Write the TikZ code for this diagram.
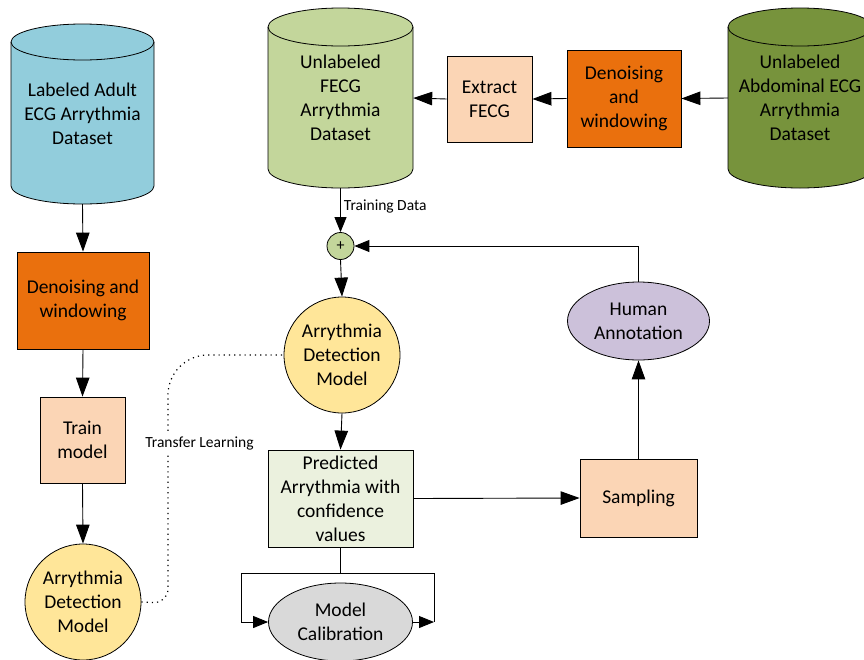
\documentclass[tikz,border=0pt]{standalone}
\usepackage{fontspec}
\setmainfont{Carlito}
\usetikzlibrary{arrows.meta,shapes.geometric}
\definecolor{cblue}{HTML}{92CDDC}
\definecolor{cgreen}{HTML}{C3D69B}
\definecolor{colive}{HTML}{77933C}
\definecolor{corange}{HTML}{EA700D}
\definecolor{cpeach}{HTML}{FBD5B5}
\definecolor{cyel}{HTML}{FFE699}
\definecolor{cpale}{HTML}{EBF1DE}
\definecolor{clav}{HTML}{CCC1DA}
\definecolor{cgray}{HTML}{D9D9D9}
\definecolor{cline}{HTML}{000000}
\tikzset{
  lbl/.style={font=\fontsize{19.5}{24}\selectfont, align=center},
  box/.style={draw=cline, line width=0.8pt, inner sep=0pt, lbl},
  arr/.style={-{Triangle[length=19pt,width=13.5pt]}, line width=0.9pt, draw=cline},
  sarr/.style={-{Triangle[length=15pt,width=12pt]}, line width=0.9pt, draw=cline},
  ln/.style={line width=0.9pt, draw=cline},
  small/.style={font=\fontsize{15.5}{18}\selectfont},
}
\newcommand\mycyl[8]{%
  \path[fill=#7, draw=cline, line width=0.8pt] ({#2-#5},{#3+#6}) -- ({#2-#5},{#4-#6})
    arc[start angle=180,end angle=360,x radius=#5pt,y radius=#6pt] -- ({#2+#5},{#3+#6})
    arc[start angle=0,end angle=180,x radius=#5pt,y radius=#6pt] -- cycle;
  \draw[cline, line width=0.8pt] ({#2-#5},{#3+#6}) arc[start angle=180,end angle=360,x radius=#5pt,y radius=#6pt];
  \node[lbl, inner sep=0pt, minimum width={2*#5pt}, minimum height={(#4-#3)*1pt}] (#1) at (#2,{(#3+#4)/2}) {#8};
}
\begin{document}
\begin{tikzpicture}[x=1pt,y=-1pt]
\useasboundingbox (0,0) rectangle (864,659);
\fill[white] (0,0) rectangle (864,659);

% cylinders
\mycyl{lcyl}{82.5}{24}{204}{71.5}{18}{cblue}{Labeled Adult\\ECG Arrythmia\\Dataset}
\mycyl{mcyl}{340.5}{8}{188}{72.5}{19}{cgreen}{Unlabeled\\FECG\\Arrythmia\\Dataset}
\mycyl{rcyl}{800}{8}{188}{72}{19}{colive}{Unlabeled\\Abdominal ECG\\Arrythmia\\Dataset}

% boxes
\node[box, fill=corange, minimum width=132pt, minimum height=97pt] (den1) at (83,300.5) {Denoising and\\windowing};
\node[box, fill=cpeach, minimum width=85pt, minimum height=86pt] (train) at (82.5,440) {Train\\model};
\node[circle, draw=cline, line width=0.8pt, fill=cyel, minimum size=116pt, inner sep=0pt, lbl] (adm1) at (83,602) {Arrythmia\\Detection\\Model};

\node[box, fill=cpeach, minimum width=85pt, minimum height=86pt] (extract) at (489.5,99) {Extract\\FECG};
\node[box, fill=corange, minimum width=114pt, minimum height=97pt] (den2) at (624,98.5) {Denoising\\and\\windowing};

\node[circle, draw=cline, line width=0.8pt, fill=cgreen, minimum size=27pt, inner sep=0pt, font=\fontsize{16}{18}\selectfont] (plus) at (340.5,246) {+};
\node[circle, draw=cline, line width=0.8pt, fill=cyel, minimum size=116pt, inner sep=0pt, lbl] (adm2) at (342,355) {Arrythmia\\Detection\\Model};
\node[box, fill=cpale, minimum width=145pt, minimum height=97pt] (pred) at (340.5,498.5) {Predicted\\Arrythmia with\\confidence\\values};
\node[ellipse, draw=cline, line width=0.8pt, fill=cgray, minimum width=144pt, minimum height=78pt, inner sep=0pt, lbl] (calib) at (340.5,622) {Model\\Calibration};

\node[box, fill=cpeach, minimum width=117pt, minimum height=78pt] (samp) at (638.5,498) {Sampling};
\node[ellipse, draw=cline, line width=0.8pt, fill=clav, minimum width=142pt, minimum height=78pt, inner sep=0pt, lbl] (human) at (638.5,321) {Human\\Annotation};

% left chain
\draw[arr] (lcyl.south) -- (den1.north);
\draw[arr] (den1.south) -- (train.north);
\draw[arr] (train.south) -- (adm1.north);

% top chain
\draw[arr] (rcyl.west) -- (den2.east);
\draw[arr] (den2.west) -- (extract.east);
\draw[arr] (extract.west) -- (mcyl.east);

% center
\draw[sarr] (mcyl.south) -- node[small, anchor=west, pos=0.42, inner sep=3pt] {Training Data} (plus.north);
\draw[arr] (plus.south) -- (adm2.north);
\draw[arr] (adm2.south) -- (pred.north);
\draw[arr] (pred.east) -- (samp.west);
\draw[arr] (samp.north) -- (human.south);
\draw[sarr] (human.north) |- (plus.east);

% calibration loop
\coordinate (cj) at (340.5,573);
\coordinate (cl) at (241,573);
\coordinate (cr) at (434,573);
\coordinate (crb) at (434,622);
\draw[ln] (pred.south) -- (cj);
\draw[ln] (cl) -- (cr);
\draw[sarr] (cl) |- (calib.west);
\draw[ln] (cr) -- (crb);
\draw[sarr] (calib.east) -- (crb);

% transfer learning
\coordinate (t1) at (168,603);
\coordinate (t2) at (168,355);
\draw[line width=1.2pt, cline, dash pattern=on 1.2pt off 4pt] (adm1.east) [rounded corners=14pt] -- (t1) [rounded corners=40pt] -- (t2) -- (adm2.west);
\node[small, fill=white, inner sep=2pt] (tl) at (199.5,443) {Transfer Learning};
\end{tikzpicture}
\end{document}
